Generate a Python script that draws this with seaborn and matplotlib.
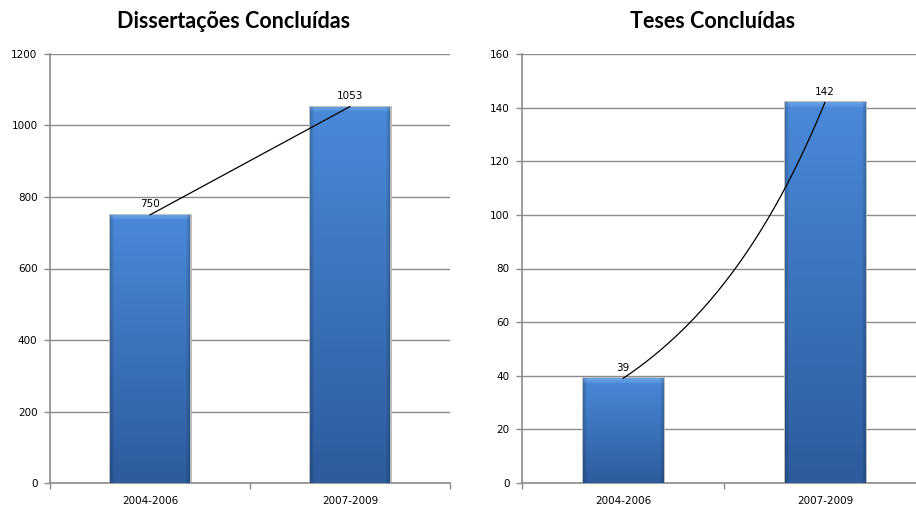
import numpy as np
import pandas as pd
import matplotlib
matplotlib.use("Agg")
import matplotlib.pyplot as plt
import seaborn as sns
from matplotlib.colors import to_rgb

# Data
periods = ["2004-2006", "2007-2009"]
dissertacoes = [750, 1053]
teses = [39, 142]
titles = ["Dissertações Concluídas", "Teses Concluídas"]
y_limits = [(0, 1200), (0, 160)]
y_steps = [200, 20]
trend_kinds = ["linear", "exponential"]

sns.set_theme(style="white")
plt.rcParams["font.family"] = ["DejaVu Sans"]

GRID = "#8c8c8c"
TOP_BLUE = to_rgb("#4a8ad9")
BOTTOM_BLUE = to_rgb("#2d5b9c")
BEVEL = to_rgb("#6fa6e8")

fig = plt.figure(figsize=(9.16, 5.07), dpi=100)
ax_left = fig.add_axes([50 / 916, 24 / 507, 400 / 916, 429 / 507])
ax_right = fig.add_axes([522 / 916, 24 / 507, 404 / 916, 429 / 507])


def bar_image(h_px, w_px):
    """Vertical blue gradient with a light top bevel and darker side edges."""
    h_px = max(int(round(h_px)), 2)
    w_px = max(int(round(w_px)), 2)
    t = np.linspace(0, 1, h_px)[:, None, None]
    base = (1 - t) * np.array(TOP_BLUE) + t * np.array(BOTTOM_BLUE)
    img = np.repeat(base, w_px, axis=1)
    # top bevel
    bevel_rows = min(5, h_px // 2)
    for r in range(bevel_rows):
        a = 0.85 - 0.12 * r
        img[r] = (1 - a) * img[r] + a * np.array(BEVEL)
    # side shading
    x = np.arange(w_px)
    edge = np.minimum(x, w_px - 1 - x)
    shade = np.clip(1 - edge / 4.0, 0, 1) * 0.18
    img = img * (1 - shade[None, :, None])
    return np.clip(img, 0, 1)


def draw_panel(ax, values, title, ylim, step, kind, title_x):
    df = pd.DataFrame({"periodo": periods, "valor": values})
    sns.barplot(data=df, x="periodo", y="valor", ax=ax, width=0.4,
                color="#3a73c0", saturation=1, edgecolor="none", zorder=3)
    ax.set_xlim(-0.5, 1.5)
    ax.set_ylim(*ylim)
    ax.set_yticks(np.arange(ylim[0], ylim[1] + step, step))
    ax.yaxis.grid(True, color=GRID, linewidth=1.0, zorder=0)
    ax.set_axisbelow(True)
    for s in ["top", "right"]:
        ax.spines[s].set_visible(False)
    for s in ["left", "bottom"]:
        ax.spines[s].set_color(GRID)
        ax.spines[s].set_linewidth(1.2)
    ax.set_xlabel("")
    ax.set_ylabel("")
    ax.tick_params(axis="y", length=4, width=1, color=GRID, pad=5,
                   labelsize=7.5, labelcolor="black", left=True)
    ax.tick_params(axis="x", which="major", length=0, pad=9,
                   labelsize=7.5, labelcolor="black")
    ax.set_xticks([-0.5, 0.5, 1.5], minor=True)
    ax.tick_params(axis="x", which="minor", length=4, width=1, color=GRID,
                   bottom=True)

    # gradient fill clipped to each bar
    fig.canvas.draw()
    for patch in ax.patches:
        x0, y0 = patch.get_x(), patch.get_y()
        w, h = patch.get_width(), patch.get_height()
        p0 = ax.transData.transform((x0, y0))
        p1 = ax.transData.transform((x0 + w, y0 + h))
        img = bar_image(abs(p1[1] - p0[1]), abs(p1[0] - p0[0]))
        shadow = plt.Rectangle((x0, y0), w, h, transform=ax.transData,
                               facecolor="none", edgecolor="#b8b8b8",
                               linewidth=2.0, zorder=2.5)
        ax.add_patch(shadow)
        im = ax.imshow(img, extent=[x0, x0 + w, y0, y0 + h], aspect="auto",
                       origin="upper", interpolation="bilinear", zorder=3.5)
        im.set_clip_path(patch)
    ax.set_xlim(-0.5, 1.5)
    ax.set_ylim(*ylim)

    # value labels
    for i, v in enumerate(values):
        ax.annotate(str(v), (i, v), xytext=(0, 4), textcoords="offset points",
                    ha="center", va="bottom", fontsize=7.5, color="black",
                    zorder=6)

    # trendline through the bar tops
    xs = np.arange(len(values), dtype=float)
    xx = np.linspace(xs[0], xs[-1], 200)
    if kind == "linear":
        coef = np.polyfit(xs, values, 1)
        yy = np.polyval(coef, xx)
    else:
        coef = np.polyfit(xs, np.log(values), 1)
        yy = np.exp(np.polyval(coef, xx))
    ax.plot(xx, yy, color="black", linewidth=0.9, zorder=5)

    fig.text(title_x, 1 - 22 / 507, title, ha="center", va="center",
             fontsize=15.5, fontweight="bold", color="black",
             family=["Lato", "DejaVu Sans"])


draw_panel(ax_left, dissertacoes, titles[0], y_limits[0], y_steps[0],
           trend_kinds[0], 234 / 916)
draw_panel(ax_right, teses, titles[1], y_limits[1], y_steps[1],
           trend_kinds[1], 713 / 916)

fig.savefig("out.png", dpi=100, facecolor="white")
